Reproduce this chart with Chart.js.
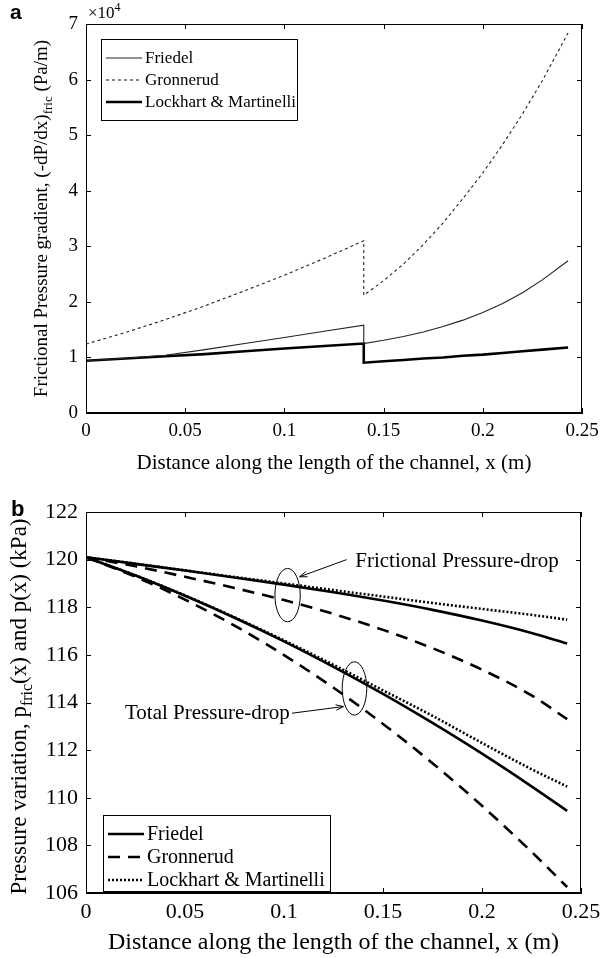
<!DOCTYPE html>
<html>
<head>
<meta charset="utf-8">
<script src="https://cdn.jsdelivr.net/npm/chart.js@4.4.1/dist/chart.umd.min.js"></script>
<style>
  html, body { margin: 0; padding: 0; background: #fff; }
  #wrap { position: relative; width: 607px; height: 958px; overflow: hidden; }
  canvas { position: absolute; left: 0; }
  #ca { top: 0; }
  #cb { top: 480px; }
</style>
</head>
<body>
<div id="wrap">
  <canvas id="ca" width="607" height="480"></canvas>
  <canvas id="cb" width="607" height="478"></canvas>
</div>
<script>
// ---------------- DATA ----------------
// Panel a: frictional pressure gradient (Pa/m) vs distance x (m)
const xA = [0, 0.02, 0.04, 0.06, 0.08, 0.10, 0.12, 0.14, 0.14, 0.15, 0.16, 0.17, 0.18, 0.19, 0.20, 0.21, 0.22, 0.23, 0.243];
const gradFriedel   = [9400, 9850, 10400, 11400, 12500, 13600, 14700, 15800, 12500, 13080, 13770, 14590, 15560, 16710, 18080, 19710, 21650, 23950, 27400];
const gradGronnerud = [12400, 14500, 16800, 19300, 22000, 24800, 27800, 31000, 21200, 23800, 26800, 30300, 34200, 38600, 43200, 48300, 53800, 59800, 68400];
const gradLockhart  = [9400, 9800, 10200, 10600, 11100, 11600, 12050, 12500, 9050, 9300, 9550, 9800, 10000, 10300, 10500, 10800, 11100, 11400, 11800];
const xTicksA = [0, 0.05, 0.1, 0.15, 0.2, 0.25];
const yTicksA = [0, 10000, 20000, 30000, 40000, 50000, 60000, 70000];

// Panel b: pressure variation (kPa) vs distance x (m)
const xB = [0, 0.025, 0.05, 0.075, 0.1, 0.125, 0.15, 0.175, 0.2, 0.225, 0.243];
const fricFriedel   = [120.1, 119.82, 119.54, 119.25, 118.95, 118.63, 118.28, 117.89, 117.44, 116.92, 116.48];
const fricGronnerud = [120.1, 119.72, 119.28, 118.81, 118.30, 117.72, 117.05, 116.28, 115.38, 114.30, 113.30];
const fricLockhart  = [120.1, 119.83, 119.55, 119.27, 119.00, 118.72, 118.45, 118.18, 117.93, 117.68, 117.48];
const totFriedel    = [120.1, 119.33, 118.48, 117.56, 116.57, 115.50, 114.36, 113.14, 111.85, 110.48, 109.45];
const totGronnerud  = [120.1, 119.28, 118.32, 117.23, 115.99, 114.62, 113.10, 111.45, 109.66, 107.73, 106.25];
const totLockhart   = [120.1, 119.34, 118.50, 117.58, 116.61, 115.58, 114.51, 113.44, 112.30, 111.20, 110.47];
const xTicksB = [0, 0.05, 0.1, 0.15, 0.2, 0.25];
const yTicksB = [106, 108, 110, 112, 114, 116, 118, 120, 122];

const seriesNames = ['Friedel', 'Gronnerud', 'Lockhart & Martinelli'];
const xTitle = 'Distance along the length of the channel, x (m)';

// annotation anchors in data units (panel b)
const ellipses = [
  { x: 0.1018, y: 118.51, rx: 0.0064, ry: 1.12 },
  { x: 0.1356, y: 114.59, rx: 0.0062, ry: 1.12 }
];
const arrows = [
  { from: [0.1316, 120.00], to: [0.1079, 119.28] },
  { from: [0.1040, 113.55], to: [0.1300, 113.83] }
];
const notes = [
  { text: 'Frictional Pressure-drop', x: 0.1360, y: 119.93 },
  { text: 'Total Pressure-drop', x: 0.0197, y: 113.52 }
];

// ---------------- HELPERS ----------------
const SERIF = '"Liberation Serif", "Times New Roman", serif';
const pts = (xs, ys) => xs.map((x, i) => ({ x: x, y: ys[i] }));
const fmtX = v => String(Number(v.toFixed(2)));

function drawSubText(ctx, parts, size, cy, baseX) {
  ctx.save();
  ctx.translate(baseX, cy);
  ctx.rotate(-Math.PI / 2);
  ctx.fillStyle = '#000';
  ctx.textBaseline = 'alphabetic';
  ctx.textAlign = 'left';
  let total = 0;
  const widths = parts.map(p => {
    ctx.font = (p.sub ? Math.round(size * 0.7) : size) + 'px ' + SERIF;
    const w = ctx.measureText(p.t).width;
    total += w;
    return w;
  });
  let x = -total / 2;
  parts.forEach((p, i) => {
    ctx.font = (p.sub ? Math.round(size * 0.7) : size) + 'px ' + SERIF;
    ctx.fillText(p.t, x, p.sub ? size * 0.28 : 0);
    x += widths[i];
  });
  ctx.restore();
}

function makeDecor(cfg) {
  return {
    id: 'decor' + cfg.name,
    afterDraw(chart) {
      const ctx = chart.ctx;
      const a = chart.chartArea;
      const xs = chart.scales.x, ys = chart.scales.y;
      ctx.save();
      ctx.strokeStyle = '#000';
      ctx.lineWidth = 1;
      ctx.strokeRect(a.left + 0.5, a.top + 0.5, a.right - a.left - 1, a.bottom - a.top - 1);
      const tl = 5;
      ctx.beginPath();
      xs.ticks.forEach(t => {
        const px = Math.round(xs.getPixelForValue(t.value)) + 0.5;
        ctx.moveTo(px, a.bottom); ctx.lineTo(px, a.bottom - tl);
        ctx.moveTo(px, a.top); ctx.lineTo(px, a.top + tl);
      });
      ys.ticks.forEach(t => {
        const py = Math.round(ys.getPixelForValue(t.value)) + 0.5;
        ctx.moveTo(a.left, py); ctx.lineTo(a.left + tl, py);
        ctx.moveTo(a.right, py); ctx.lineTo(a.right - tl, py);
      });
      ctx.stroke();

      drawSubText(ctx, cfg.yTitle, cfg.yTitleSize, (a.top + a.bottom) / 2 + cfg.yTitleShift, cfg.yTitleX);

      ctx.fillStyle = '#000';
      ctx.font = 'bold ' + cfg.letterSize + 'px "Liberation Sans", Arial, sans-serif';
      ctx.textAlign = 'left';
      ctx.textBaseline = 'alphabetic';
      ctx.fillText(cfg.letter, cfg.letterX, cfg.letterY);

      if (cfg.exponent) {
        ctx.font = '17px ' + SERIF;
        ctx.fillText('\u00d710', a.left + 2, a.top - 6);
        const w = ctx.measureText('\u00d710').width;
        ctx.font = '12px ' + SERIF;
        ctx.fillText('4', a.left + 2 + w, a.top - 13);
      }

      const L = cfg.legend;
      const lx = a.left + L.dx, ly = a.top + L.dy;
      ctx.fillStyle = '#fff';
      ctx.fillRect(lx, ly, L.w, L.h);
      ctx.strokeStyle = '#000';
      ctx.lineWidth = 1;
      ctx.setLineDash([]);
      ctx.strokeRect(lx + 0.5, ly + 0.5, L.w, L.h);
      ctx.font = L.size + 'px ' + SERIF;
      ctx.textBaseline = 'middle';
      L.items.forEach((di, i) => {
        const ds = chart.data.datasets[di];
        const yy = ly + L.first + i * L.step;
        ctx.save();
        ctx.strokeStyle = ds.borderColor;
        ctx.lineWidth = ds.borderWidth;
        ctx.setLineDash(ds.borderDash || []);
        ctx.beginPath();
        ctx.moveTo(lx + L.s0, yy);
        ctx.lineTo(lx + L.s1, yy);
        ctx.stroke();
        ctx.restore();
        ctx.fillStyle = '#000';
        ctx.fillText(seriesNames[i], lx + L.tx, yy + 1);
      });

      if (cfg.annot) {
        ctx.strokeStyle = '#000';
        ctx.lineWidth = 1;
        ctx.setLineDash([]);
        ellipses.forEach(e => {
          const cx = xs.getPixelForValue(e.x), cy = ys.getPixelForValue(e.y);
          const rx = Math.abs(xs.getPixelForValue(e.x + e.rx) - cx);
          const ry = Math.abs(ys.getPixelForValue(e.y + e.ry) - cy);
          ctx.beginPath();
          ctx.ellipse(cx, cy, rx, ry, 0, 0, Math.PI * 2);
          ctx.stroke();
        });
        arrows.forEach(ar => {
          const x1 = xs.getPixelForValue(ar.from[0]), y1 = ys.getPixelForValue(ar.from[1]);
          const x2 = xs.getPixelForValue(ar.to[0]), y2 = ys.getPixelForValue(ar.to[1]);
          const ang = Math.atan2(y2 - y1, x2 - x1);
          ctx.beginPath();
          ctx.moveTo(x1, y1); ctx.lineTo(x2, y2);
          const h = 8, s = 0.35;
          ctx.moveTo(x2, y2); ctx.lineTo(x2 - h * Math.cos(ang - s), y2 - h * Math.sin(ang - s));
          ctx.moveTo(x2, y2); ctx.lineTo(x2 - h * Math.cos(ang + s), y2 - h * Math.sin(ang + s));
          ctx.stroke();
        });
        ctx.fillStyle = '#000';
        ctx.font = '21px ' + SERIF;
        ctx.textAlign = 'left';
        ctx.textBaseline = 'middle';
        notes.forEach(n => {
          ctx.fillText(n.text, xs.getPixelForValue(n.x), ys.getPixelForValue(n.y));
        });
      }
      ctx.restore();
    }
  };
}

function axisX(ticksArr, tickSize, titleSize, h, titlePadBottom, tickPad) {
  return {
    type: 'linear', min: 0, max: 0.25,
    afterBuildTicks: s => { s.ticks = ticksArr.map(v => ({ value: v })); },
    afterFit: s => { s.height = h; },
    ticks: { callback: v => fmtX(v), font: { family: SERIF, size: tickSize }, color: '#000', padding: tickPad, maxRotation: 0, autoSkip: false },
    grid: { display: false, drawTicks: false },
    border: { display: true, color: '#000', width: 1 },
    title: { display: true, text: xTitle, color: '#000', font: { family: SERIF, size: titleSize }, padding: { top: 0, bottom: titlePadBottom } }
  };
}
function axisY(min, max, ticksArr, fmt, tickSize, w, tickPad) {
  return {
    type: 'linear', min: min, max: max,
    afterBuildTicks: s => { s.ticks = ticksArr.map(v => ({ value: v })); },
    afterFit: s => { s.width = w; },
    ticks: { callback: fmt, font: { family: SERIF, size: tickSize }, color: '#000', padding: tickPad, autoSkip: false },
    grid: { display: false, drawTicks: false },
    border: { display: true, color: '#000', width: 1 }
  };
}

// ---------------- CHART A ----------------
new Chart(document.getElementById('ca'), {
  type: 'line',
  data: {
    datasets: [
      { label: seriesNames[0], data: pts(xA, gradFriedel), borderColor: '#222', borderWidth: 1.1, pointRadius: 0, tension: 0, fill: false },
      { label: seriesNames[1], data: pts(xA, gradGronnerud), borderColor: '#222', borderWidth: 1.1, borderDash: [3, 3], pointRadius: 0, tension: 0, fill: false },
      { label: seriesNames[2], data: pts(xA, gradLockhart), borderColor: '#000', borderWidth: 2.6, pointRadius: 0, tension: 0, fill: false }
    ]
  },
  options: {
    responsive: false, animation: false, devicePixelRatio: 1,
    layout: { padding: { left: 0, right: 25, top: 24, bottom: 0 } },
    plugins: { legend: { display: false }, tooltip: { enabled: false } },
    scales: {
      x: axisX(xTicksA, 19, 21, 67, 4, 7),
      y: axisY(0, 70000, yTicksA, v => String(Math.round(v / 10000)), 19, 86, 8)
    }
  },
  plugins: [makeDecor({
    name: 'a', letter: 'a', letterX: 10, letterY: 19, letterSize: 21, exponent: true,
    yTitle: [{ t: 'Frictional Pressure gradient, (-dP/dx)' }, { t: 'fric', sub: true }, { t: ' (Pa/m)' }],
    yTitleSize: 19, yTitleX: 47, yTitleShift: 0,
    legend: { dx: 15, dy: 15, w: 196, h: 81, first: 19, step: 22, s0: 5, s1: 41, tx: 44, size: 17, items: [0, 1, 2] },
    annot: false
  })]
});

// ---------------- CHART B ----------------
new Chart(document.getElementById('cb'), {
  type: 'line',
  data: {
    datasets: [
      { label: seriesNames[0] + ' (frictional)', data: pts(xB, fricFriedel), borderColor: '#000', borderWidth: 2.6, pointRadius: 0, cubicInterpolationMode: 'monotone', fill: false },
      { label: seriesNames[1] + ' (frictional)', data: pts(xB, fricGronnerud), borderColor: '#000', borderWidth: 2.6, borderDash: [12, 8], pointRadius: 0, cubicInterpolationMode: 'monotone', fill: false },
      { label: seriesNames[2] + ' (frictional)', data: pts(xB, fricLockhart), borderColor: '#000', borderWidth: 2.6, borderDash: [2, 2], pointRadius: 0, cubicInterpolationMode: 'monotone', fill: false },
      { label: seriesNames[0] + ' (total)', data: pts(xB, totFriedel), borderColor: '#000', borderWidth: 2.6, pointRadius: 0, cubicInterpolationMode: 'monotone', fill: false },
      { label: seriesNames[1] + ' (total)', data: pts(xB, totGronnerud), borderColor: '#000', borderWidth: 2.6, borderDash: [12, 8], pointRadius: 0, cubicInterpolationMode: 'monotone', fill: false },
      { label: seriesNames[2] + ' (total)', data: pts(xB, totLockhart), borderColor: '#000', borderWidth: 2.6, borderDash: [2, 2], pointRadius: 0, cubicInterpolationMode: 'monotone', fill: false }
    ]
  },
  options: {
    responsive: false, animation: false, devicePixelRatio: 1,
    layout: { padding: { left: 0, right: 26, top: 32, bottom: 0 } },
    plugins: { legend: { display: false }, tooltip: { enabled: false } },
    scales: {
      x: axisX(xTicksB, 22, 24, 65, 1, 6),
      y: axisY(106, 122, yTicksB, v => String(v), 22, 86, 8)
    }
  },
  plugins: [makeDecor({
    name: 'b', letter: 'b', letterX: 11, letterY: 36, letterSize: 22, exponent: false,
    yTitle: [{ t: 'Pressure variation, p' }, { t: 'fric', sub: true }, { t: '(x) and p(x) (kPa)' }],
    yTitleSize: 23, yTitleX: 26, yTitleShift: 4,
    legend: { dx: 17, dy: 303, w: 227, h: 76, first: 19, step: 23, s0: 5, s1: 41, tx: 44, size: 20, items: [0, 1, 2] },
    annot: true
  })]
});
</script>
</body>
</html>
